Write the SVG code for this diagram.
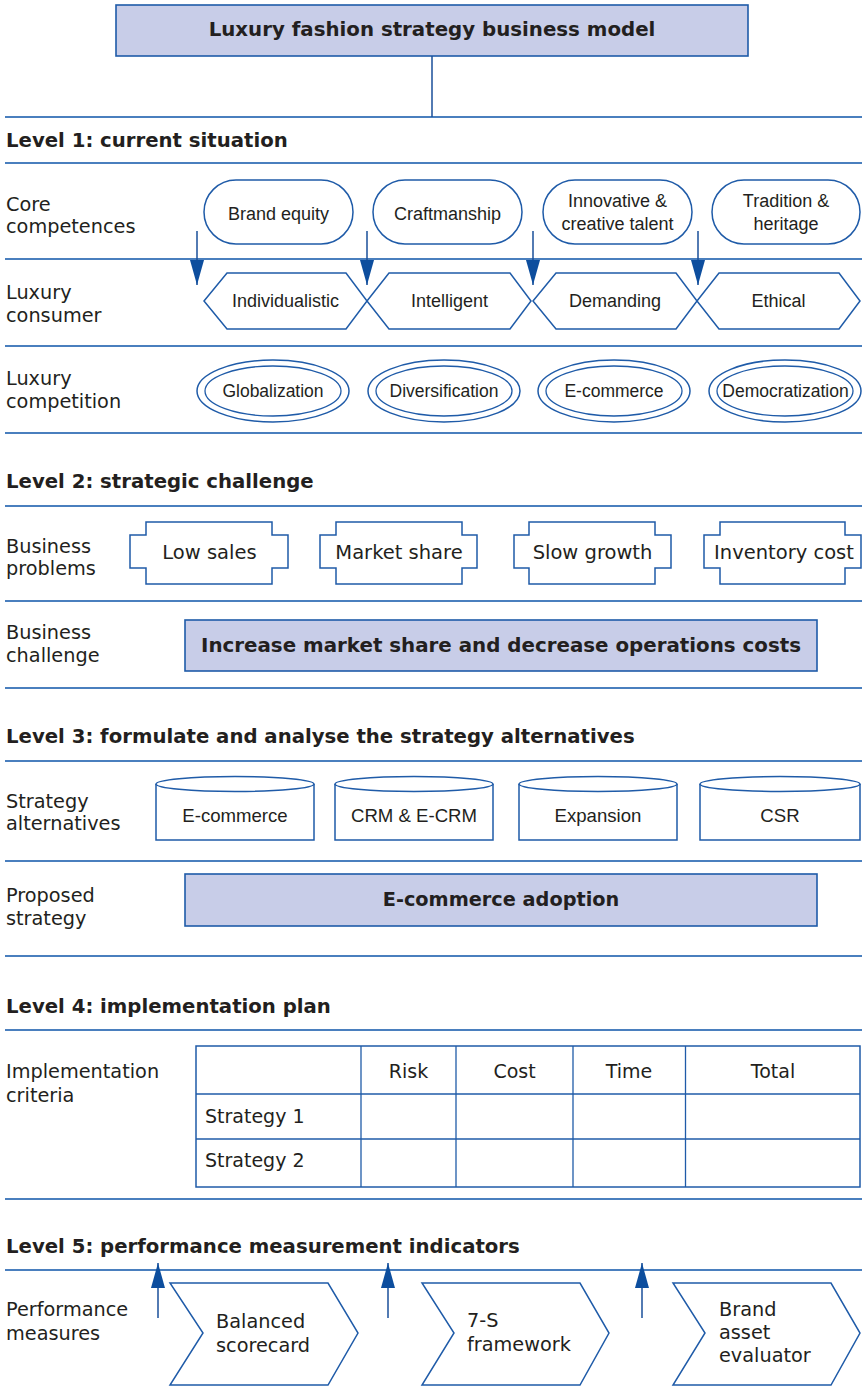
<svg xmlns="http://www.w3.org/2000/svg" width="862" height="1393" viewBox="0 0 862 1393">
<style>
text{fill:#231f20}
.h{font-family:"DejaVu Sans",sans-serif;font-weight:bold;font-size:19.7px}
.lab{font-family:"DejaVu Sans",sans-serif;font-size:19.3px}
.n1{font-family:"Liberation Sans",Arial,sans-serif;font-size:18px;text-anchor:middle}
.n2{font-family:"DejaVu Sans",sans-serif;font-size:19.5px;text-anchor:middle}
.cy{font-family:"Liberation Sans",Arial,sans-serif;font-size:18.6px;text-anchor:middle}
.tb{font-family:"DejaVu Sans",sans-serif;font-size:19px}
.ch{font-family:"DejaVu Sans",sans-serif;font-size:19.3px}
.sec{stroke:#4a7fbe;stroke-width:2;fill:none}
.sh{fill:#fff;stroke:#1f5ba8;stroke-width:1.5}
.shl{fill:none;stroke:#1f5ba8;stroke-width:1.3}
.hi{fill:#c8cde8;stroke:#1f5ba8;stroke-width:1.6}
.conn{stroke:#1a4f9a;stroke-width:1.5;fill:none}
.ar{fill:#0d4e9e}
</style>
<defs>
<marker id="ah" viewBox="0 0 25 14" refX="25" refY="7" markerWidth="25" markerHeight="14" markerUnits="userSpaceOnUse" orient="auto">
<path d="M0,0 L25,7 L0,14 Z" class="ar"/>
</marker>
</defs>

<!-- section lines -->
<g id="sections">
<line class="sec" x1="5" y1="117" x2="862" y2="117"/>
<line class="sec" x1="5" y1="163" x2="862" y2="163"/>
<line class="sec" x1="5" y1="259" x2="862" y2="259"/>
<line class="sec" x1="5" y1="346" x2="862" y2="346"/>
<line class="sec" x1="5" y1="433" x2="862" y2="433"/>
<line class="sec" x1="5" y1="506" x2="862" y2="506"/>
<line class="sec" x1="5" y1="601" x2="862" y2="601"/>
<line class="sec" x1="5" y1="688" x2="862" y2="688"/>
<line class="sec" x1="5" y1="761" x2="862" y2="761"/>
<line class="sec" x1="5" y1="861" x2="862" y2="861"/>
<line class="sec" x1="5" y1="956" x2="862" y2="956"/>
<line class="sec" x1="5" y1="1030" x2="862" y2="1030"/>
<line class="sec" x1="5" y1="1199" x2="862" y2="1199"/>
<line class="sec" x1="5" y1="1270" x2="862" y2="1270"/>
</g>

<!-- headings and labels -->
<g id="headings">
<text class="h" x="6" y="147">Level 1: current situation</text>
<text class="h" x="6" y="488">Level 2: strategic challenge</text>
<text class="h" x="6" y="743">Level 3: formulate and analyse the strategy alternatives</text>
<text class="h" x="6" y="1013">Level 4: implementation plan</text>
<text class="h" x="6" y="1253">Level 5: performance measurement indicators</text>
</g>
<g id="labels">
<text class="lab" x="6" y="211">Core</text>
<text class="lab" x="6" y="233">competences</text>
<text class="lab" x="6" y="299">Luxury</text>
<text class="lab" x="6" y="322">consumer</text>
<text class="lab" x="6" y="385">Luxury</text>
<text class="lab" x="6" y="408">competition</text>
<text class="lab" x="6" y="553">Business</text>
<text class="lab" x="6" y="575">problems</text>
<text class="lab" x="6" y="639">Business</text>
<text class="lab" x="6" y="662">challenge</text>
<text class="lab" x="6" y="808">Strategy</text>
<text class="lab" x="6" y="830">alternatives</text>
<text class="lab" x="6" y="902">Proposed</text>
<text class="lab" x="6" y="925">strategy</text>
<text class="lab" x="6" y="1078">Implementation</text>
<text class="lab" x="6" y="1102">criteria</text>
<text class="lab" x="6" y="1316">Performance</text>
<text class="lab" x="6" y="1340">measures</text>
</g>

<!-- title -->
<g id="title">
<rect class="hi" x="116" y="5" width="632" height="51"/>
<text class="h" x="432" y="36" text-anchor="middle" style="font-size:19.8px">Luxury fashion strategy business model</text>
</g>

<!-- Level 1: core competences -->
<g id="brand-equity"><rect class="sh" x="204" y="180" width="149" height="64" rx="32"/><text class="n1" x="278.5" y="220">Brand equity</text></g>
<g id="craftmanship"><rect class="sh" x="373" y="180" width="149" height="64" rx="32"/><text class="n1" x="447.5" y="220">Craftmanship</text></g>
<g id="innovative"><rect class="sh" x="543" y="180" width="149" height="64" rx="32"/><text class="n1" x="617.5" y="207">Innovative &amp;</text><text class="n1" x="617.5" y="230">creative talent</text></g>
<g id="tradition"><rect class="sh" x="712" y="180" width="148" height="64" rx="32"/><text class="n1" x="786" y="207">Tradition &amp;</text><text class="n1" x="786" y="230">heritage</text></g>

<!-- Level 1: consumer -->
<g id="individualistic"><polygon class="sh" points="204,301 227,273 346,273 367,301 346,329 227,329"/><text class="n1" x="285.5" y="307">Individualistic</text></g>
<g id="intelligent"><polygon class="sh" points="367,301 389,273 510,273 531,301 510,329 389,329"/><text class="n1" x="449.5" y="307">Intelligent</text></g>
<g id="demanding"><polygon class="sh" points="533,301 556,273 676,273 697,301 676,329 556,329"/><text class="n1" x="615" y="307">Demanding</text></g>
<g id="ethical"><polygon class="sh" points="697,301 719,273 839,273 860,301 839,329 719,329"/><text class="n1" x="778.5" y="307">Ethical</text></g>

<!-- Level 1: competition -->
<g id="globalization"><ellipse class="sh" cx="273" cy="391" rx="76" ry="31"/><ellipse class="shl" cx="273" cy="391" rx="68" ry="25"/><text class="n1" x="273" y="397" style="font-size:17.5px">Globalization</text></g>
<g id="diversification"><ellipse class="sh" cx="444" cy="391" rx="76" ry="31"/><ellipse class="shl" cx="444" cy="391" rx="68" ry="25"/><text class="n1" x="444" y="397" style="font-size:17.5px">Diversification</text></g>
<g id="ecommerce1"><ellipse class="sh" cx="614" cy="391" rx="76" ry="31"/><ellipse class="shl" cx="614" cy="391" rx="68" ry="25"/><text class="n1" x="614" y="397" style="font-size:17.5px">E-commerce</text></g>
<g id="democratization"><ellipse class="sh" cx="785" cy="391" rx="76" ry="31"/><ellipse class="shl" cx="785" cy="391" rx="68" ry="25"/><text class="n1" x="785.5" y="397" style="font-size:17.5px">Democratization</text></g>

<!-- Level 2: problems -->
<g id="low-sales"><path class="sh" d="M146,522 H272 V535 H288 V568 H272 V584 H146 V568 H130 V535 H146 Z"/><text class="n2" x="209.5" y="559">Low sales</text></g>
<g id="market-share"><path class="sh" d="M336,522 H462 V535 H477 V568 H462 V584 H336 V568 H320 V535 H336 Z"/><text class="n2" x="399" y="559">Market share</text></g>
<g id="slow-growth"><path class="sh" d="M529,522 H655 V535 H671 V568 H655 V584 H529 V568 H514 V535 H529 Z"/><text class="n2" x="592.5" y="559">Slow growth</text></g>
<g id="inventory-cost"><path class="sh" d="M720,522 H845 V535 H861 V568 H845 V584 H720 V568 H704 V535 H720 Z"/><text class="n2" x="784" y="559">Inventory cost</text></g>

<!-- Level 2: challenge -->
<g id="business-challenge"><rect class="hi" x="185" y="620" width="632" height="51"/><text class="h" x="501" y="652" text-anchor="middle" textLength="600" lengthAdjust="spacingAndGlyphs">Increase market share and decrease operations costs</text></g>

<!-- Level 3: alternatives -->
<g id="alt-ecommerce"><path class="sh" d="M156,784 V840 H314 V784"/><ellipse class="sh" cx="235" cy="784" rx="79" ry="7.5"/><text class="cy" x="235" y="822">E-commerce</text></g>
<g id="alt-crm"><path class="sh" d="M335,784 V840 H493 V784"/><ellipse class="sh" cx="414" cy="784" rx="79" ry="7.5"/><text class="cy" x="414" y="822">CRM &amp; E-CRM</text></g>
<g id="alt-expansion"><path class="sh" d="M519,784 V840 H677 V784"/><ellipse class="sh" cx="598" cy="784" rx="79" ry="7.5"/><text class="cy" x="598" y="822">Expansion</text></g>
<g id="alt-csr"><path class="sh" d="M700,784 V840 H860 V784"/><ellipse class="sh" cx="780" cy="784" rx="80" ry="7.5"/><text class="cy" x="780" y="822">CSR</text></g>

<!-- Level 3: proposed -->
<g id="proposed-strategy"><rect class="hi" x="185" y="874" width="632" height="52"/><text class="h" x="501" y="906" text-anchor="middle" style="font-size:19.3px">E-commerce adoption</text></g>

<!-- Level 4: table -->
<g id="criteria-table">
<rect x="196" y="1046" width="664" height="141" fill="#fff" stroke="#1f5ba8" stroke-width="1.5"/>
<line class="shl" x1="196" y1="1094" x2="860" y2="1094"/>
<line class="shl" x1="196" y1="1139" x2="860" y2="1139"/>
<line class="shl" x1="361" y1="1046" x2="361" y2="1187"/>
<line class="shl" x1="456" y1="1046" x2="456" y2="1187"/>
<line class="shl" x1="573" y1="1046" x2="573" y2="1187"/>
<line class="shl" x1="685.5" y1="1046" x2="685.5" y2="1187"/>
<text class="tb" x="408.5" y="1078" text-anchor="middle">Risk</text>
<text class="tb" x="514.5" y="1078" text-anchor="middle">Cost</text>
<text class="tb" x="629" y="1078" text-anchor="middle">Time</text>
<text class="tb" x="773" y="1078" text-anchor="middle">Total</text>
<text class="tb" x="205" y="1123">Strategy 1</text>
<text class="tb" x="205" y="1167">Strategy 2</text>
</g>

<!-- Level 5: chevrons -->
<g id="balanced-scorecard"><polygon class="sh" points="170,1283 328,1283 358,1333 328,1385 170,1385 203,1333"/><text class="ch" x="216" y="1328">Balanced</text><text class="ch" x="216" y="1352">scorecard</text></g>
<g id="seven-s"><polygon class="sh" points="422,1283 580,1283 609,1333 580,1385 422,1385 454,1333"/><text class="ch" x="467" y="1327">7-S</text><text class="ch" x="467" y="1351">framework</text></g>
<g id="brand-asset"><polygon class="sh" points="673,1283 831,1283 860,1333 831,1385 673,1385 705,1333"/><text class="ch" x="719" y="1316">Brand</text><text class="ch" x="719" y="1339">asset</text><text class="ch" x="719" y="1362">evaluator</text></g>

<!-- connectors -->
<g id="connectors">
<line class="conn" x1="432" y1="56" x2="432" y2="117"/>
<line class="conn" x1="197" y1="231" x2="197" y2="285" marker-end="url(#ah)"/>
<line class="conn" x1="367" y1="231" x2="367" y2="285" marker-end="url(#ah)"/>
<line class="conn" x1="533" y1="231" x2="533" y2="285" marker-end="url(#ah)"/>
<line class="conn" x1="698" y1="231" x2="698" y2="285" marker-end="url(#ah)"/>
<line class="conn" x1="158" y1="1318" x2="158" y2="1263" marker-end="url(#ah)"/>
<line class="conn" x1="388" y1="1318" x2="388" y2="1263" marker-end="url(#ah)"/>
<line class="conn" x1="642" y1="1318" x2="642" y2="1263" marker-end="url(#ah)"/>
</g>
</svg>
